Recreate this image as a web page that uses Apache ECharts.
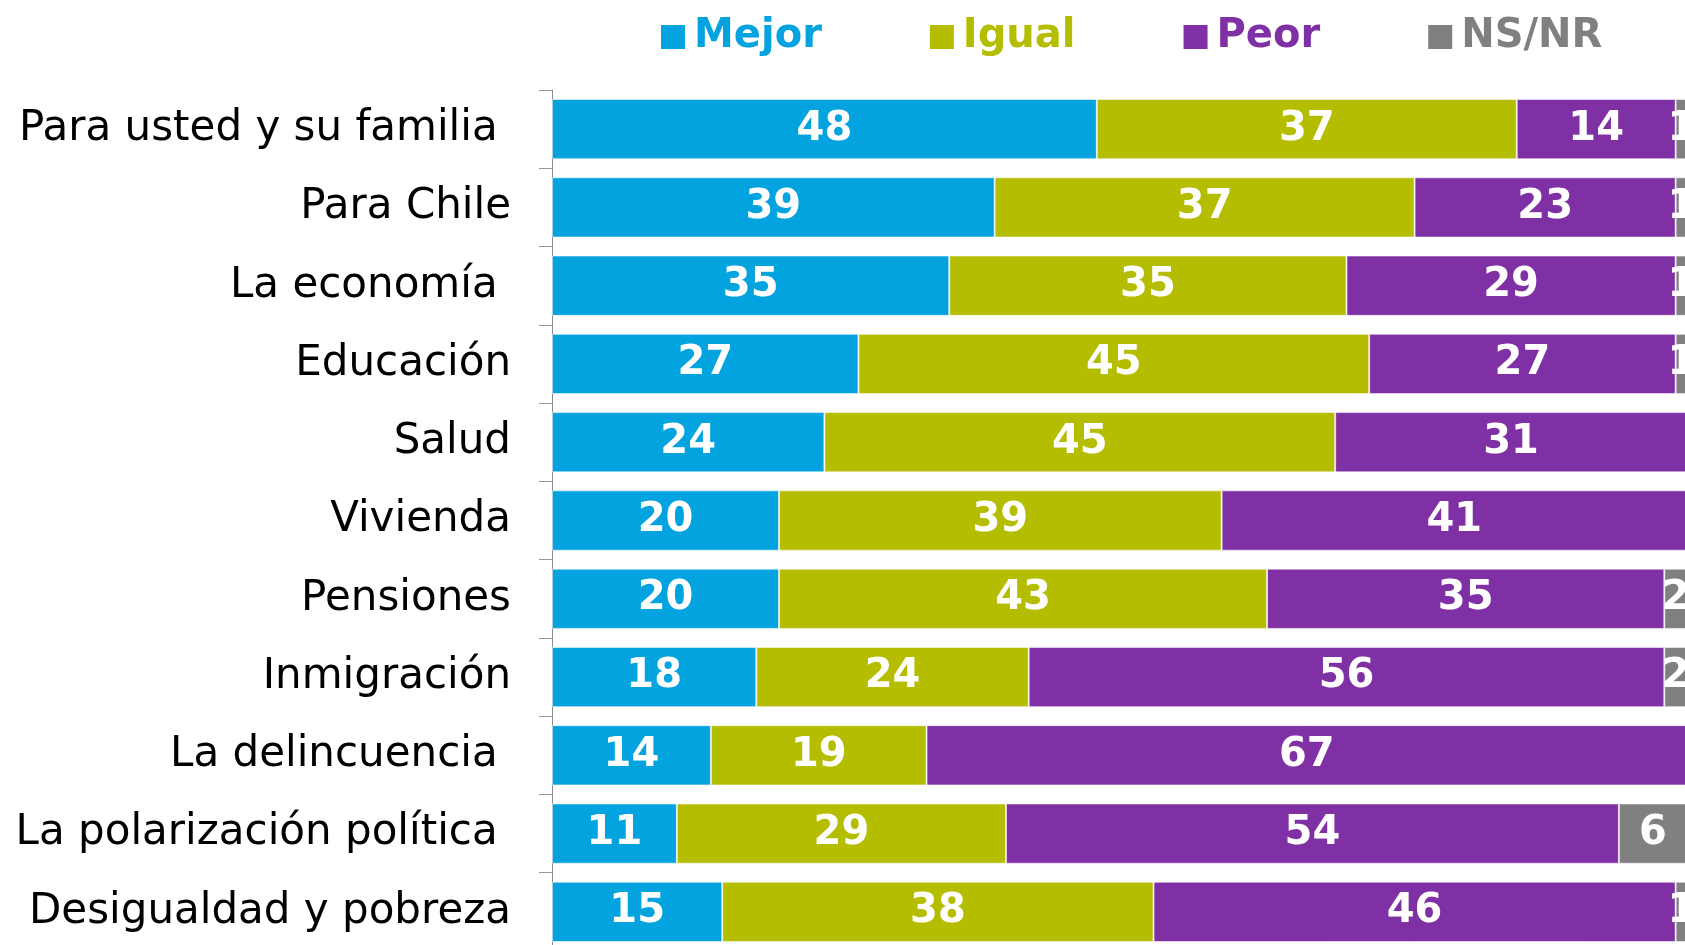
<!DOCTYPE html>
<html>
<head>
<meta charset="utf-8">
<script src="https://cdn.jsdelivr.net/npm/echarts@6/dist/echarts.min.js"></script>
<style>
  html, body { margin: 0; padding: 0; background: #fff; }
  #chart { width: 1685px; height: 945px; }
</style>
</head>
<body>
<div id="chart"></div>
<script>
// categories top to bottom (trailing spaces as in the original labels)
const categories = [
    'Para usted y su familia ',
    'Para Chile',
    'La economía ',
    'Educación',
    'Salud',
    'Vivienda',
    'Pensiones',
    'Inmigración',
    'La delincuencia ',
    'La polarización política ',
    'Desigualdad y pobreza',
];
const mejor = [48, 39, 35, 27, 24, 20, 20, 18, 14, 11, 15];
const igual = [37, 37, 35, 45, 45, 39, 43, 24, 19, 29, 38];
const peor = [14, 23, 29, 27, 31, 41, 35, 56, 67, 54, 46];
const nsnr = [1, 1, 1, 1, 0, 0, 2, 2, 0, 6, 1];

const seriesConfig = [
    { name: 'Mejor', color: '#03a3e0', data: mejor },
    { name: 'Igual', color: '#b5bd00', data: igual },
    { name: 'Peor', color: '#7f30a4', data: peor },
    { name: 'NS/NR', color: '#808080', data: nsnr },
];

const chart = echarts.init(document.getElementById('chart'));

chart.setOption({
    backgroundColor: '#fff',
    animation: false,
    legend: {
        top: 11,
        left: 656,
        itemWidth: 24,
        itemHeight: 24,
        itemGap: 108,
        icon: 'rect',
        itemStyle: { borderWidth: 0 },
        textStyle: {
            fontFamily: 'DejaVu Sans',
            fontWeight: 'bold',
            fontSize: 40,
            lineHeight: 42,
            padding: [0, 0, 0, 4],
        },
        data: seriesConfig.map((s) => ({
            name: s.name,
            textStyle: { color: s.color },
        })),
    },
    grid: { left: 552, top: 90, width: 1135, height: 861, outerBoundsMode: 'none' },
    xAxis: {
        type: 'value',
        min: 0,
        max: 100,
        show: false,
    },
    yAxis: {
        type: 'category',
        inverse: true,
        data: categories,
        axisLine: { show: true, lineStyle: { color: '#8c8c8c', width: 1 } },
        axisTick: { show: true, length: 13, lineStyle: { color: '#9a9a9a' } },
        axisLabel: {
            margin: 41,
            color: '#000',
            fontFamily: 'DejaVu Sans',
            fontSize: 42,
            padding: [6, 0, 0, 0],
        },
    },
    series: seriesConfig.map((s) => ({
        name: s.name,
        type: 'bar',
        stack: 'total',
        barCategoryGap: '23%',
        itemStyle: {
            color: s.color,
            borderColor: 'rgba(255,255,255,0.55)',
            borderWidth: 1,
        },
        label: {
            show: true,
            position: 'inside',
            color: '#fff',
            fontFamily: 'DejaVu Sans',
            fontWeight: 'bold',
            fontSize: 40,
            padding: [6, 0, 0, 0],
            formatter: (p) => (p.value > 0 ? p.value : ''),
        },
        data: s.data,
    })),
});
</script>
</body>
</html>
